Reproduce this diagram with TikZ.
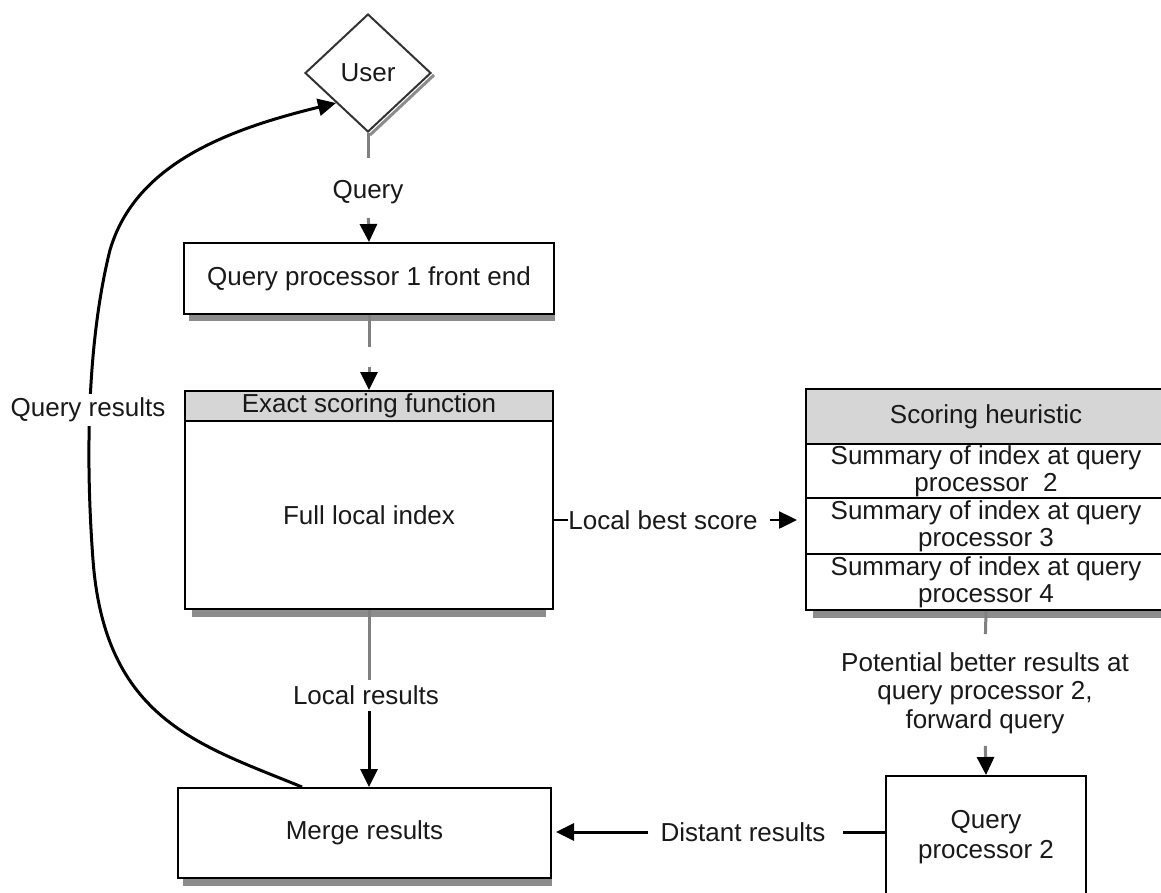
\documentclass[tikz,border=0pt]{standalone}
\usepackage{fontspec}
\setmainfont{Liberation Sans}
\usetikzlibrary{shapes.geometric,arrows.meta,calc}

\begin{document}
\begin{tikzpicture}[x=1pt,y=-1pt,
  every node/.style={font=\fontsize{26}{28}\selectfont, text=black!90},
  box/.style={draw=black, line width=2pt, fill=white, rectangle, inner sep=0pt, anchor=north west},
  head/.style={box, fill=black!16},
  lbl/.style={fill=white, inner xsep=0pt, inner ysep=0pt, align=center},
  arr/.style={-{Triangle[length=18pt,width=17pt,black]}},
  blk/.style={draw=black, line width=3pt},
  gry/.style={draw=black!50, line width=3pt},
  shadowband/.style={fill=black!45},
]
\useasboundingbox (0,0) rectangle (1161,892);

% user diamond
\node[diamond, draw=black!80, line width=2pt, fill=white, aspect=1, inner sep=0pt,
      minimum width=126pt, minimum height=118pt] (user) at (368,73) {User};
\draw[black!45, line width=3pt] ([shift={(2pt,-2pt)}]user.south) -- ([shift={(2pt,-2pt)}]user.east);

% front end
\node[box, minimum width=370pt, minimum height=71pt] (qp1) at (183,242) {Query processor 1 front end};

% exact scoring block
\node[head, minimum width=368pt, minimum height=30pt] (exact) at (184,390) {Exact scoring function};
\node[box, minimum width=368pt, minimum height=188pt] (idx) at (184,420) {Full local index};

% scoring heuristic table
\begin{scope}[every node/.append style={font=\fontsize{26}{27}\selectfont}]
\node[head, minimum width=360pt, minimum height=55pt] (heur) at (805,388) {Scoring heuristic};
\node[box, minimum width=360pt, minimum height=54pt, align=center] (sum2) at (805,443)
  {Summary of index at query\\processor\ \ 2};
\node[box, minimum width=360pt, minimum height=56pt, align=center] (sum3) at (805,497)
  {Summary of index at query\\processor 3};
\node[box, minimum width=360pt, minimum height=56pt, align=center] (sum4) at (805,553)
  {Summary of index at query\\processor 4};
\end{scope}

% merge and remote processor
\node[box, minimum width=373pt, minimum height=90pt] (merge) at (177,787) {Merge results};
\node[box, minimum width=200pt, minimum height=122pt, align=center,
      font=\fontsize{26}{30}\selectfont] (qp2) at (885,775) {Query\\processor 2};

% shadows under boxes
\fill[shadowband] ([shift={(6pt,0pt)}]qp1.south west) rectangle ([shift={(0pt,-6pt)}]qp1.south east);
\fill[shadowband] ([shift={(8pt,0pt)}]idx.south west) rectangle ([shift={(-8pt,-7pt)}]idx.south east);
\fill[shadowband] ([shift={(8pt,0pt)}]sum4.south west) rectangle ([shift={(0pt,-7pt)}]sum4.south east);
\fill[shadowband] ([shift={(6pt,0pt)}]merge.south west) rectangle ([shift={(0pt,-7pt)}]merge.south east);

% connector labels
\node[lbl] (qlab) at (368,192) {Query};
\node[lbl] (lres) at (366,695) {Local results};
\node[lbl] (lbs) at (663,520) {Local best score};
\node[lbl] (dres) at (743,832) {Distant results};
\node[lbl, font=\fontsize{26}{28.5}\selectfont] (pbr) at (985,693)
  {Potential better results at\\query processor 2,\\forward query};

% query path
\draw[gry, shorten >=22pt] (user.south) -- (qlab.north);
\draw[gry, arr, shorten <=14pt] (qlab.south) -- (qp1.north);
\draw[gry, arr, dash pattern=on 32pt off 20pt] (qp1.south) -- (exact.north);

% local results
\draw[gry, shorten >=5pt] (idx.south) -- (idx.south |- lres.north);
\draw[blk, arr, shorten <=6pt] (idx.south |- lres.south) -- (idx.south |- merge.north);

% local best score
\draw[black, line width=2.5pt] (idx.east |- lbs) -- (lbs.west);
\draw[black, line width=2.5pt, arr, shorten <=12pt, shorten >=8pt] (lbs.east) -- (sum3.west |- lbs);

% forward to processor 2
\draw[gry, shorten >=18pt] (sum4.south) -- (pbr.north);
\draw[gry, arr, shorten <=12pt] (pbr.south) -- (qp2.north);

% distant results
\draw[blk, shorten >=17pt] (qp2.west |- dres) -- (dres.east);
\draw[blk, arr, shorten <=12pt, shorten >=4pt] (dres.west) -- (merge.east |- dres);

% query results back to the user
\coordinate (mstart) at ($(merge.north west)+(125pt,0pt)$);
\draw[black, line width=3pt, arr]
  (mstart) .. controls (200,745) and (105,720) .. (93,560)
           .. controls (84,440) and (90,330) .. (110,250)
           .. controls (135,165) and (225,130) .. (user.south west);
\node[lbl, inner ysep=4pt] (qres) at (88,410) {Query results};

\end{tikzpicture}
\end{document}
